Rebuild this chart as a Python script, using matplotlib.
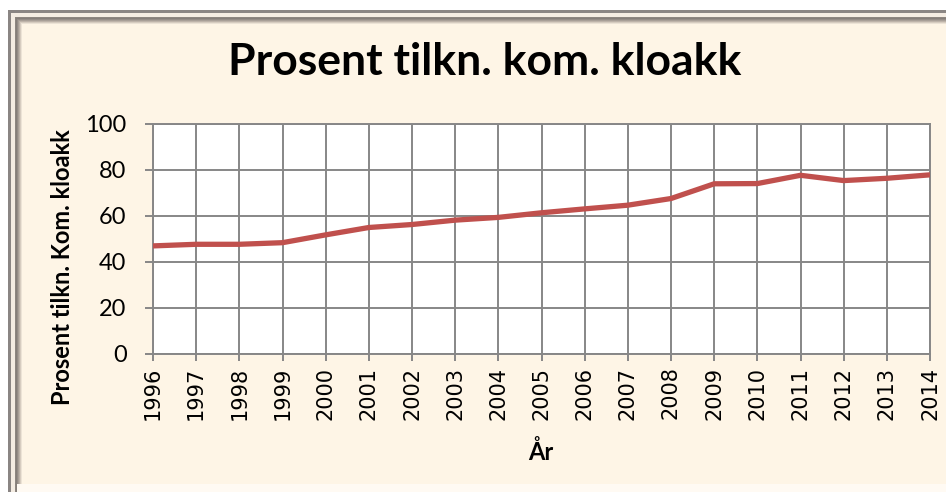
import matplotlib
matplotlib.use("Agg")
import matplotlib.pyplot as plt
from matplotlib.patches import Rectangle

# data
years = list(range(1996, 2015))
prosent = [47.0, 47.7, 47.7, 48.4, 51.8, 55.0, 56.3, 58.2, 59.4, 61.4, 63.1,
           64.7, 67.6, 74.0, 74.1, 77.7, 75.4, 76.4, 77.9]
yticks = [0, 20, 40, 60, 80, 100]

W, H = 946, 492
fig = plt.figure(figsize=(W / 100, H / 100), dpi=100, facecolor="white")

# ---- frame (pixel coordinates, y downward) ----
bg = fig.add_axes([0, 0, 1, 1]); bg.axis("off")
bg.set_xlim(0, W); bg.set_ylim(H, 0)
cream = "#fef5e6"
bg.add_patch(Rectangle((8, 10), 960, 500, fc="#8a8583", ec="none"))
bg.add_patch(Rectangle((11, 13), 960, 500, fc="#f4ece2", ec="none"))
bevel = ["#8d8680", "#857e79", "#948c86", "#a89f97", "#bdb3a9", "#d6ccc0", "#ece3d6"]
for i, c in enumerate(bevel):
    bg.add_patch(Rectangle((15 + i, 17 + i), 960, 500, fc=c, ec="none"))
bg.add_patch(Rectangle((22, 24), 960, 460, fc=cream, ec="none"))
bg.add_patch(Rectangle((17, 484), 960, 20, fc="#fffaf3", ec="none"))

# ---- plot area ----
ax = fig.add_axes([153 / W, 1 - 354 / H, (930 - 153) / W, (354 - 124) / H])
ax.set_facecolor("white")
grid_c = "#878787"
ax.plot(years, prosent, color="#c0504d", lw=3.8, solid_capstyle="butt", zorder=3)
ax.set_xlim(years[0], years[-1])
ax.set_ylim(0, 100)
ax.set_xticks(years)
ax.set_xticklabels([str(y) for y in years], rotation=90,
                   fontsize=15, family="DejaVu Sans")
ax.set_yticks(yticks)
ax.set_yticklabels([str(v) for v in yticks], fontsize=17, family="Lato")
ax.grid(True, color=grid_c, lw=1.4)
ax.set_axisbelow(True)
for sp in ax.spines.values():
    sp.set_color(grid_c); sp.set_linewidth(1.4)
ax.tick_params(axis="y", length=6, width=1.4, color=grid_c, pad=13)
ax.tick_params(axis="x", length=5, width=1.4, color=grid_c, pad=4)

# ---- texts ----
fig.text(485 / W, 1 - 62 / H, "Prosent tilkn. kom. kloakk", ha="center",
         va="center", fontsize=32, weight="bold", family="Lato")
fig.text(63 / W, 1 - 267 / H, "Prosent tilkn. Kom. kloakk", rotation=90,
         ha="center", va="center", fontsize=17, weight="bold", family="Lato")
fig.text(541 / W, 1 - 452 / H, "År", ha="center", va="center",
         fontsize=17, weight="bold", family="Lato")

fig.savefig("out.png", dpi=100, facecolor="white")
